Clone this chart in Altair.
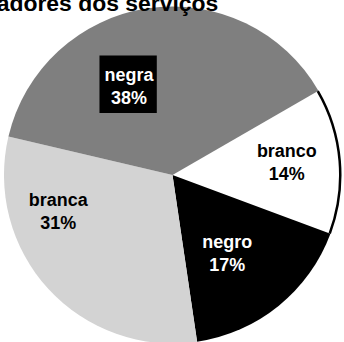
import math
import altair as alt
import pandas as pd

categories = ["branco", "negro", "branca", "negra"]
values = [14, 17, 31, 38]
fills = ["#ffffff", "#000000", "#d3d3d3", "#7f7f7f"]
label_colors = ["#000000", "#ffffff", "#000000", "#ffffff"]
title_text = "Cor/raça dos trabalhadores dos serviços"

df = pd.DataFrame({"cat": categories, "value": values, "ord": list(range(len(categories)))})

start = math.pi / 3
theta = alt.Theta("value:Q", stack=True,
                  scale=alt.Scale(range=[start, start + 2 * math.pi]))
base = alt.Chart(df).encode(theta=theta, order=alt.Order("ord:Q")).transform_calculate(
    label="datum.cat + '\\n' + datum.value + '%'"
)

pie = base.mark_arc(outerRadius=169).encode(
    color=alt.Color("cat:N", scale=alt.Scale(domain=categories, range=fills), legend=None)
)
outline = base.mark_arc(innerRadius=167, outerRadius=169.5).encode(
    color=alt.condition("datum.cat == 'branco'", alt.value("black"), alt.value("transparent"))
)

box = alt.Chart(pd.DataFrame({"t": [0]})).mark_square(
    size=3306, color="black", opacity=1, filled=True
).encode(x=alt.value(127.5), y=alt.value(80))

offsets = {"branco": (15, -15), "negro": (-8, -9), "branca": (-41, -42), "negra": (-29, 0)}
label_layers = []
for cat, col in zip(categories, label_colors):
    dx, dy = offsets[cat]
    label_layers.append(
        base.mark_text(radius=100, dx=dx, dy=dy, font="Liberation Sans", fontSize=18,
                       fontWeight="bold", lineBreak="\n", lineHeight=23,
                       align="center", baseline="middle", color=col).encode(
            text=alt.condition(f"datum.cat == '{cat}'", "label:N", alt.value(""))
        )
    )

title = alt.Chart(pd.DataFrame({"t": [title_text]})).mark_text(
    font="Liberation Sans", fontSize=23, fontWeight="bold", align="right",
    baseline="alphabetic", color="black"
).encode(text="t:N", x=alt.value(218), y=alt.value(7))

chart = alt.layer(pie, outline, box, *label_layers, title).properties(
    width=344, height=342,
    autosize=alt.AutoSizeParams(type="none"),
    padding={"left": 1, "top": 4, "right": 0, "bottom": 0},
    background="white",
).configure_view(stroke=None)

chart.save("out.html", embed_options={"renderer": "svg", "actions": False})
